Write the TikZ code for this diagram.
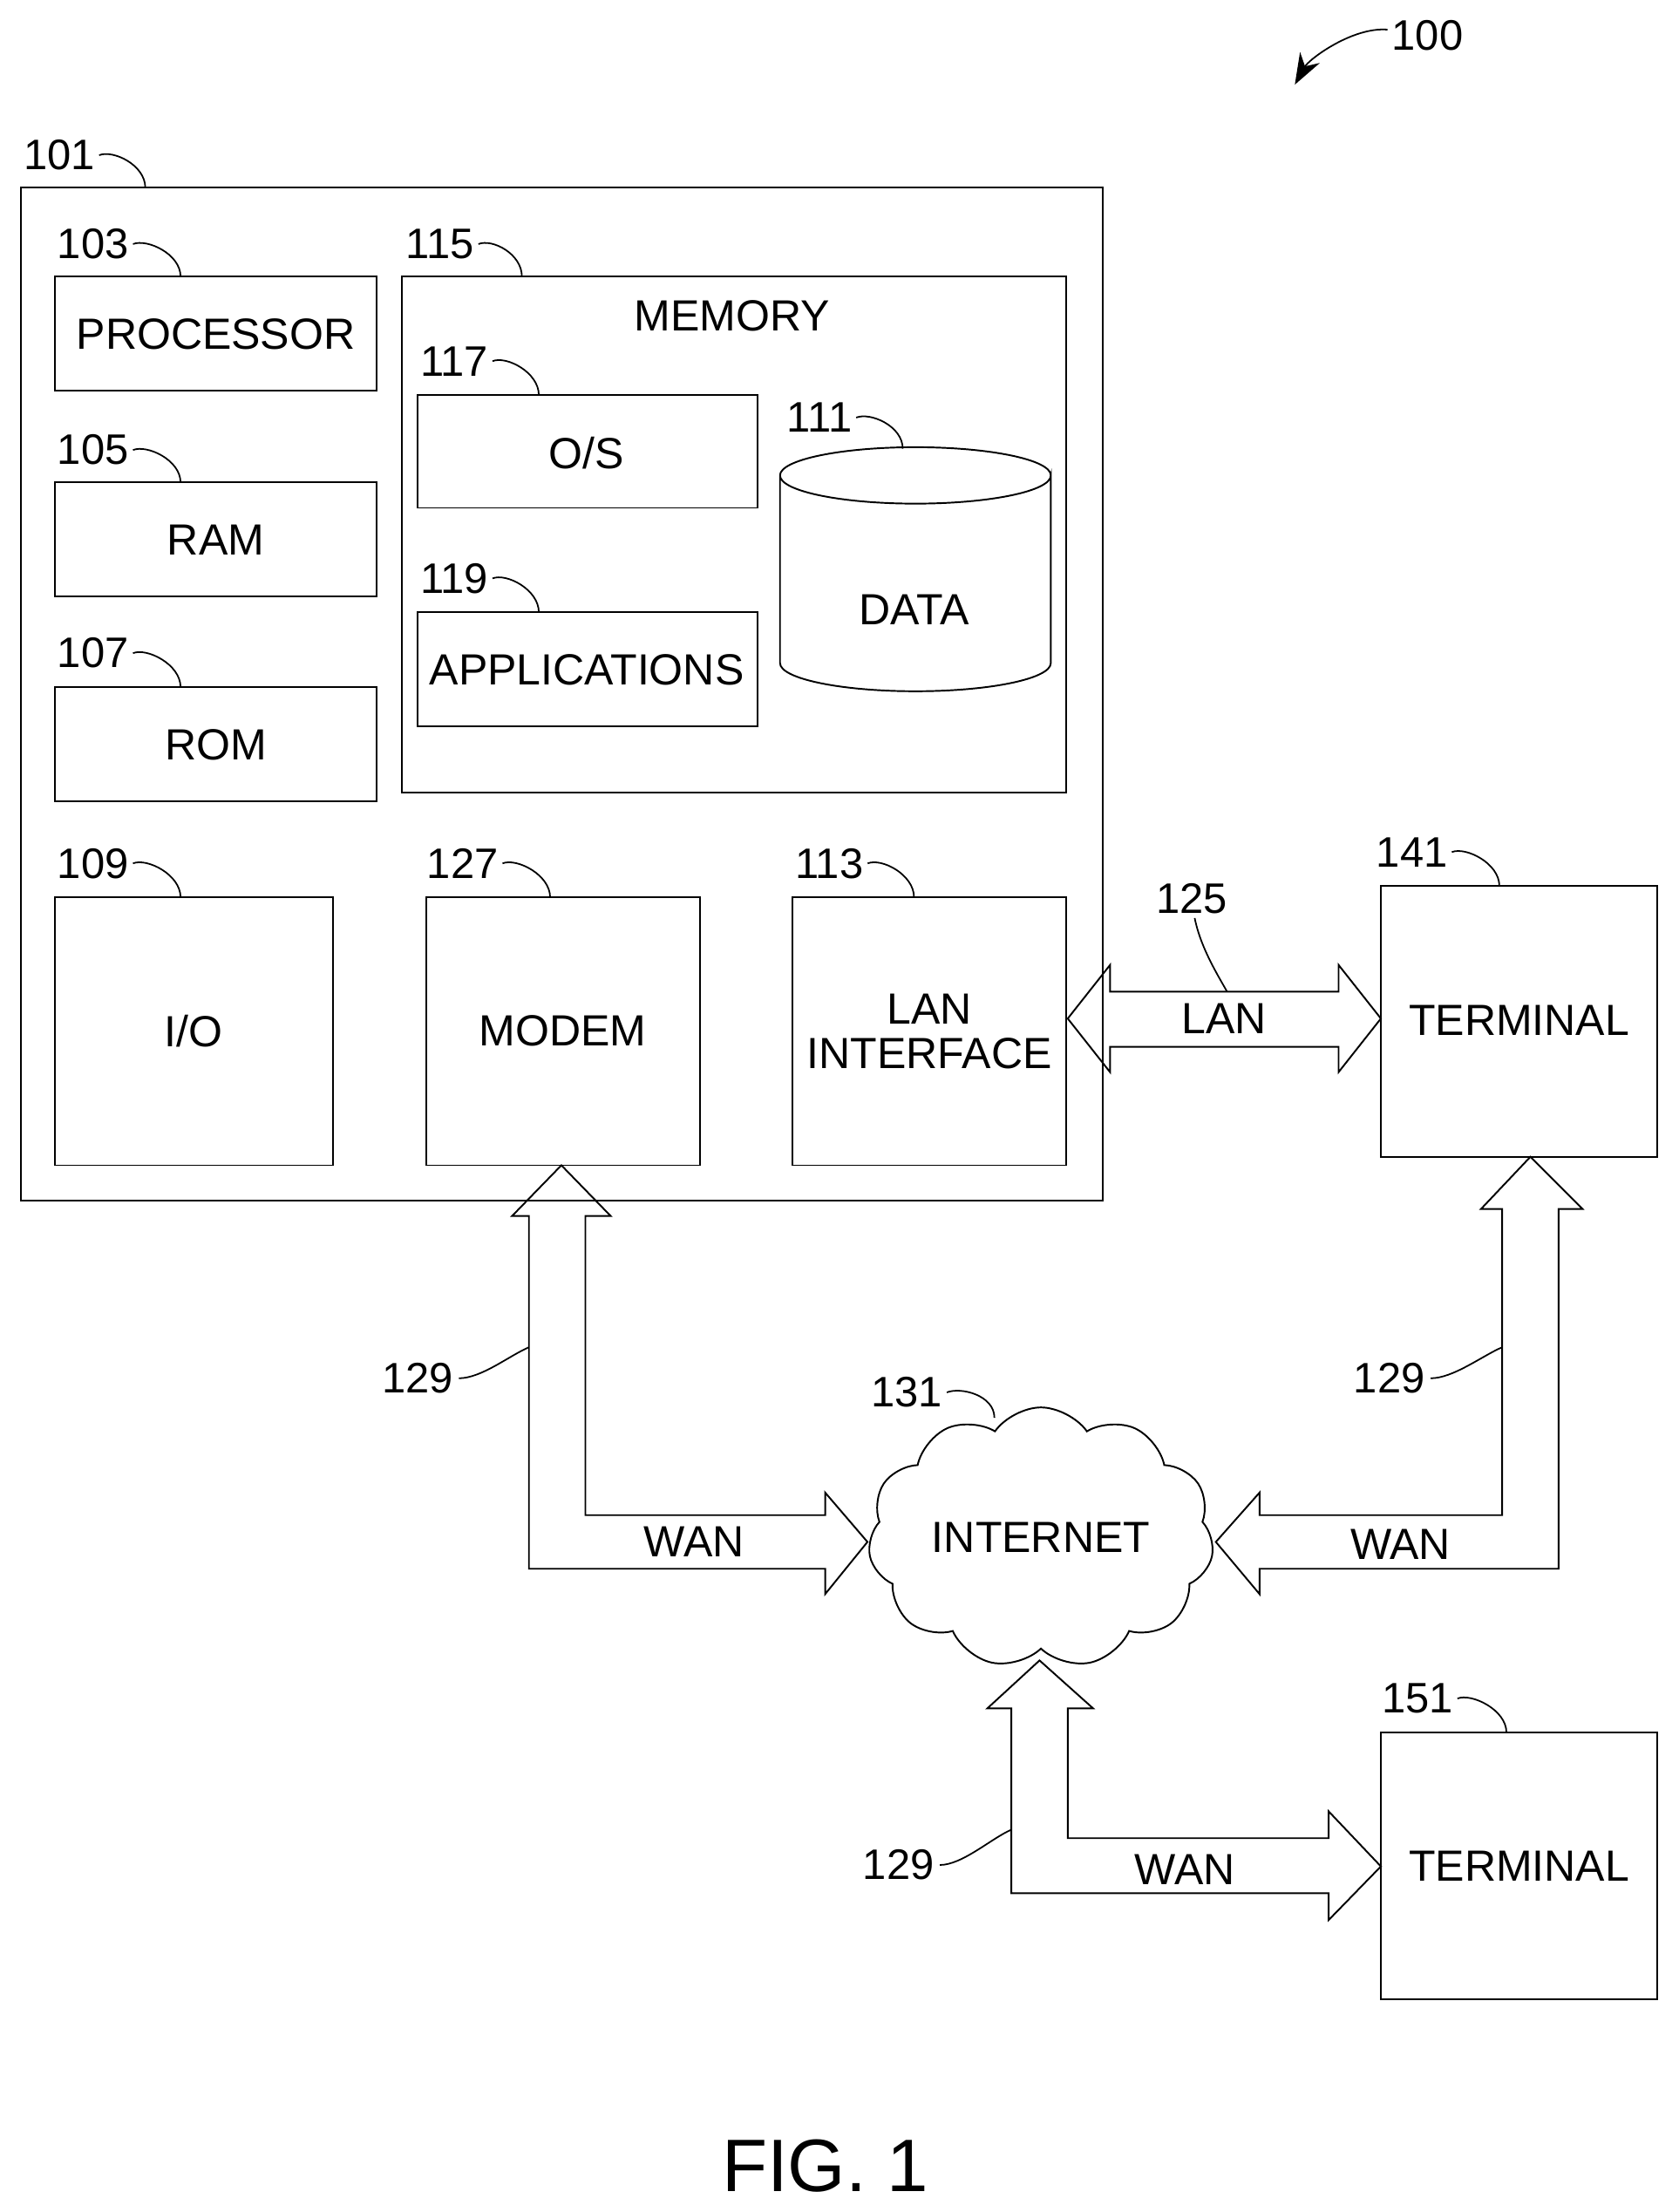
\documentclass[tikz,border=0pt]{standalone}
\usepackage{fontspec}
\setmainfont{Liberation Sans}
\usetikzlibrary{shapes.symbols,arrows.meta}
\tikzset{
  box/.style={draw, line width=1.2mm},
  txt/.style={font=\fontsize{88}{96}\selectfont, align=center},
  lbl/.style={font=\fontsize{86}{90}\selectfont, inner sep=0pt},
  lead/.style={line width=1.1mm},
  pipe/.style={draw, line width=1.2mm, line join=miter},
}
\begin{document}
\begin{tikzpicture}[x=1mm,y=-1mm]
\useasboundingbox (0,0) rectangle (1190,1568);
% main computer
\draw[box] (15,133) rectangle (782,851);
\coordinate (main) at (103,133);
\draw[box] (39,196) rectangle (267,277);
\node[txt] (proc) at (153,237) {PROCESSOR};
\draw[box] (39,342) rectangle (267,423);
\node[txt] (ram) at (153,383) {RAM};
\draw[box] (39,487) rectangle (267,568);
\node[txt] (rom) at (153,528) {ROM};
\draw[box] (285,196) rectangle (756,562);
\node[txt] (mem) at (519,224) {MEMORY};
\draw[box] (296,280) rectangle (537,360);
\node[txt] (os) at (416,321) {O/S};
\draw[box] (296,434) rectangle (537,515);
\node[txt] (apps) at (416,475) {APPLICATIONS};
% data cylinder
\draw[box] (553,337) -- (553,470) arc[start angle=180,end angle=0,x radius=96,y radius=20]
  -- (745,337) arc[start angle=0,end angle=180,x radius=96,y radius=20]
  arc[start angle=180,end angle=360,x radius=96,y radius=20];
\node[txt] (data) at (648,432) {DATA};
\draw[box] (39,636) rectangle (236,826);
\node[txt] (io) at (137,731) {I/O};
\draw[box] (302,636) rectangle (496,826);
\node[txt] (modem) at (399,731) {MODEM};
\draw[box] (562,636) rectangle (756,826);
\node[txt] (lan) at (659,731) {LAN\\[-2mm]INTERFACE};
% terminals and internet
\draw[box] (979,628) rectangle (1175,820);
\node[txt] (term1) at (1077,723) {TERMINAL};
\draw[box] (979,1228) rectangle (1175,1417);
\node[txt] (term2) at (1077,1323) {TERMINAL};
\node[cloud, draw, line width=1.2mm, cloud puffs=11, cloud puff arc=110, aspect=1.4,
  minimum width=245mm, minimum height=175mm, txt] (net) at (738,1090) {INTERNET};
% hollow arrows
\draw[pipe] (757,722) -- (787,684) -- (787,703) -- (949,703) -- (949,684) -- (979,722)
  -- (949,760) -- (949,742) -- (787,742) -- (787,760) -- cycle;
\node[txt] (lanlbl) at (868,722) {LAN};
\draw[pipe] (398,826) -- (433,862) -- (415,862) -- (415,1074) -- (585,1074) -- (585,1058)
  -- (615,1093) -- (585,1130) -- (585,1112) -- (375,1112) -- (375,862) -- (363,862) -- cycle;
\node[txt] (wan1) at (492,1093) {WAN};
\draw[pipe] (1085,820) -- (1122,857) -- (1105,857) -- (1105,1112) -- (893,1112) -- (893,1130)
  -- (862,1093) -- (893,1058) -- (893,1074) -- (1065,1074) -- (1065,857) -- (1050,857) -- cycle;
\node[txt] (wan2) at (993,1095) {WAN};
\draw[pipe] (737,1177) -- (775,1211) -- (757,1211) -- (757,1303) -- (942,1303) -- (942,1284)
  -- (979,1323) -- (942,1361) -- (942,1342) -- (717,1342) -- (717,1211) -- (700,1211) -- cycle;
\node[txt] (wan3) at (840,1325) {WAN};
% reference numerals
\foreach \n/\p/\t in {101/{(42,110)}/{(103,133)}, 103/{(66,173)}/{(128,196)},
    105/{(66,319)}/{(128,342)}, 107/{(66,463)}/{(128,487)}, 109/{(66,612)}/{(128,636)},
    115/{(312,173)}/{(370,196)}, 117/{(322,256)}/{(382,280)}, 119/{(322,410)}/{(382,434)},
    111/{(581,296)}/{(640,318)}, 127/{(328,612)}/{(390,636)}, 113/{(588,612)}/{(648,636)},
    141/{(1001,604)}/{(1063,628)}, 151/{(1005,1204)}/{(1068,1228)}, 131/{(643,987)}/{(705,1005)}} {
  \node[lbl] (n\n) at \p {\n};
  \draw[lead] (n\n.east) ++(3,0) .. controls +(10,-4) and +(0,-16) .. \t;
}
\node[lbl] (n125) at (845,637) {125};
\draw[lead] (n125.south) ++(2,3) .. controls +(4,20) and +(-8,-14) .. (870,703);
\foreach \k/\p/\t in {a/{(296,977)}/{(375,955)}, b/{(985,977)}/{(1065,955)}, c/{(637,1322)}/{(717,1297)}} {
  \node[lbl] (r\k) at \p {129};
  \draw[lead] (r\k.east) ++(4,0) .. controls +(16,0) and +(-14,6) .. \t;
}
\node[lbl] (n100) at (1012,25) {100};
\draw[lead, -{Stealth[length=22mm,width=16mm]}] (n100.west) ++(-3,-4) .. controls +(-25,-2) and +(10,-18) .. (918,60);
\node[font=\fontsize{150}{160}\selectfont] (fig) at (585,1535) {FIG. 1};
\end{tikzpicture}
\end{document}
